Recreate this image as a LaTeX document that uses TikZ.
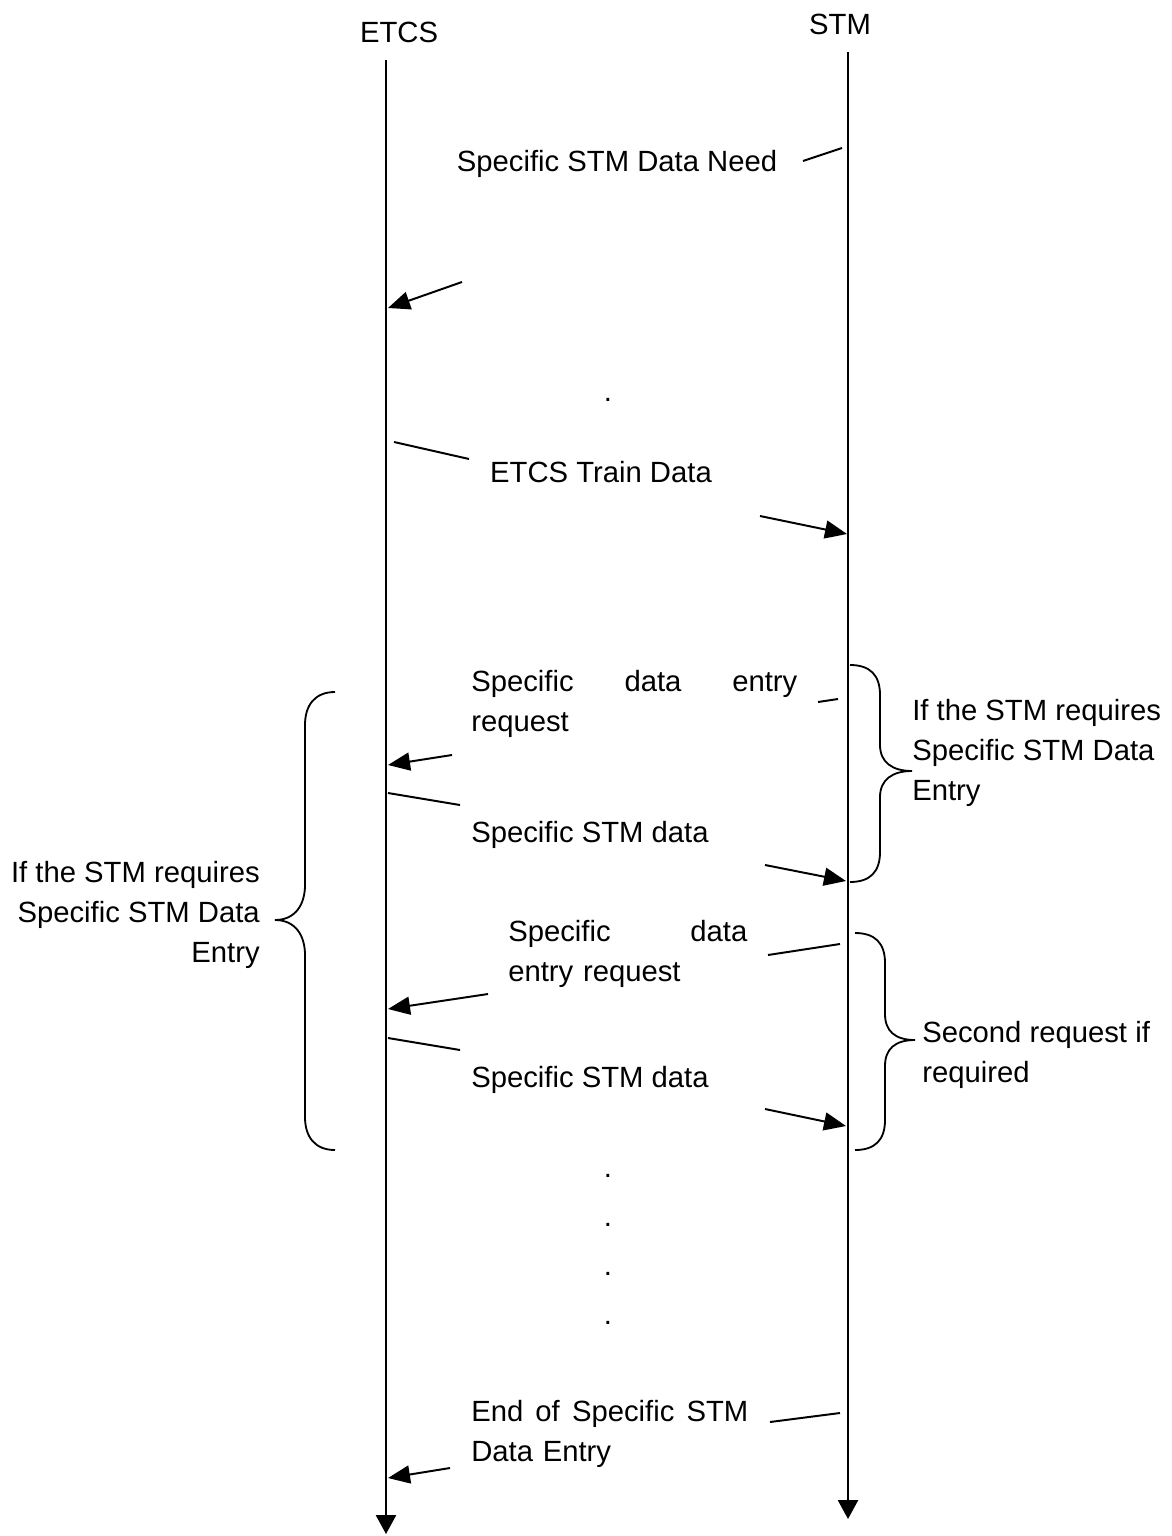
\documentclass[tikz,border=0pt]{standalone}
\usepackage{fontspec}
\setmainfont{Liberation Sans}
\usetikzlibrary{arrows.meta,positioning,calc}
\tikzset{
  life/.style={line width=1.4pt, -{Triangle[length=0.47cm,width=0.5cm]}},
  tail/.style={line width=1.4pt},
  msg/.style={line width=1.4pt, -{Triangle[length=0.55cm,width=0.45cm]}},
  curly/.style={line width=1.3pt},
  lbl/.style={inner sep=0pt, font=\fontsize{20.8pt}{28.45pt}\selectfont},
}

\begin{document}
\begin{tikzpicture}[x=0.025cm,y=-0.025cm]
 \useasboundingbox (0,0) rectangle (1171,1536);
 % lifelines
 \node[lbl] (etcs) at (399,32) {ETCS};
 \node[lbl] (stm) at (840,24) {STM};
 \coordinate (etcsTop) at (386,60);
 \coordinate (etcsBot) at (386,1534);
 \coordinate (stmTop) at (848,52);
 \coordinate (stmBot) at (848,1519);
 \draw[life] (etcsTop) -- (etcsBot);
 \draw[life] (stmTop) -- (stmBot);

 % message tails (start of each broken arrow)
 \foreach \nm/\xa/\ya/\xb/\yb in {need/842/148/803/161, train/394/442/469/459,
     reqA/818/702/838/699, datA/388/793/460/805, reqB/768/955/840/944,
     datB/388/1038/460/1050, endE/770/1422/840/1413}{
  \coordinate (\nm0) at (\xa,\ya);
  \coordinate (\nm1) at (\xb,\yb);
  \draw[tail] (\nm0) -- (\nm1);
 }
 % message heads
 \foreach \nm/\xa/\ya/\xb/\yb in {need/462/282/388/308, train/760/516/847/534,
     reqA/452/755/388/765, datA/765/865/846/881, reqB/488/994/388/1009,
     datB/765/1109/846/1126, endE/450/1468/388/1478}{
  \coordinate (\nm2) at (\xa,\ya);
  \coordinate (\nm3) at (\xb,\yb);
  \draw[msg] (\nm2) -- (\nm3);
 }

 % message labels
 \node[lbl] (needT) at (617,164) {Specific STM Data Need};
 \node[lbl] (trainT) at (601,472) {ETCS Train Data};
 \node[lbl, anchor=west, text width=8.15cm, align=left] (reqAT) at (471,704)
   {Specific\hfill data\hfill entry\\request};
 \node[lbl, anchor=west] (datAT) at (471,835) {Specific STM data};
 \node[lbl, anchor=west, text width=5.975cm, align=left] (reqBT) at (508,954)
   {Specific\hfill data\\entry request};
 \node[lbl, anchor=west] (datBT) at (471,1080) {Specific STM data};
 \node[lbl, anchor=west, text width=6.925cm, align=left] (endT) at (471,1434)
   {End\hfill of\hfill Specific\hfill STM\\Data Entry};

 % dots
 \node[lbl, anchor=base] (dot0) at (608,401) {.};
 \foreach \i/\yy in {1/1177, 2/1226, 3/1275, 4/1324}
  \node[lbl, anchor=base] (dot\i) at (608,\yy) {.};

 % braces
 \draw[curly] (335,692) .. controls (315,692) and (305,705) .. (305,725) -- (305,885)
   .. controls (305,905) and (295,920) .. (275,920)
   .. controls (295,920) and (305,935) .. (305,955) -- (305,1117)
   .. controls (305,1137) and (315,1150) .. (335,1150);
 \draw[curly] (850,665) .. controls (870,665) and (880,675) .. (880,695) -- (880,745)
   .. controls (880,762) and (892,771) .. (912,771)
   .. controls (892,771) and (880,780) .. (880,797) -- (880,852)
   .. controls (880,872) and (870,882) .. (850,882);
 \draw[curly] (855,933) .. controls (875,933) and (885,943) .. (885,963) -- (885,1014)
   .. controls (885,1031) and (895,1040) .. (915,1040)
   .. controls (895,1040) and (885,1049) .. (885,1066) -- (885,1120)
   .. controls (885,1140) and (875,1150) .. (855,1150);

 % brace labels
 \node[lbl, anchor=east, align=right] (leftT) at (260,915)
   {If the STM requires\\Specific STM Data\\Entry};
 \node[lbl, anchor=west, align=left] (rightA) at (912,753)
   {If the STM requires\\Specific STM Data\\Entry};
 \node[lbl, anchor=west, align=left] (rightB) at (922,1055)
   {Second request if\\required};
\end{tikzpicture}
\end{document}
